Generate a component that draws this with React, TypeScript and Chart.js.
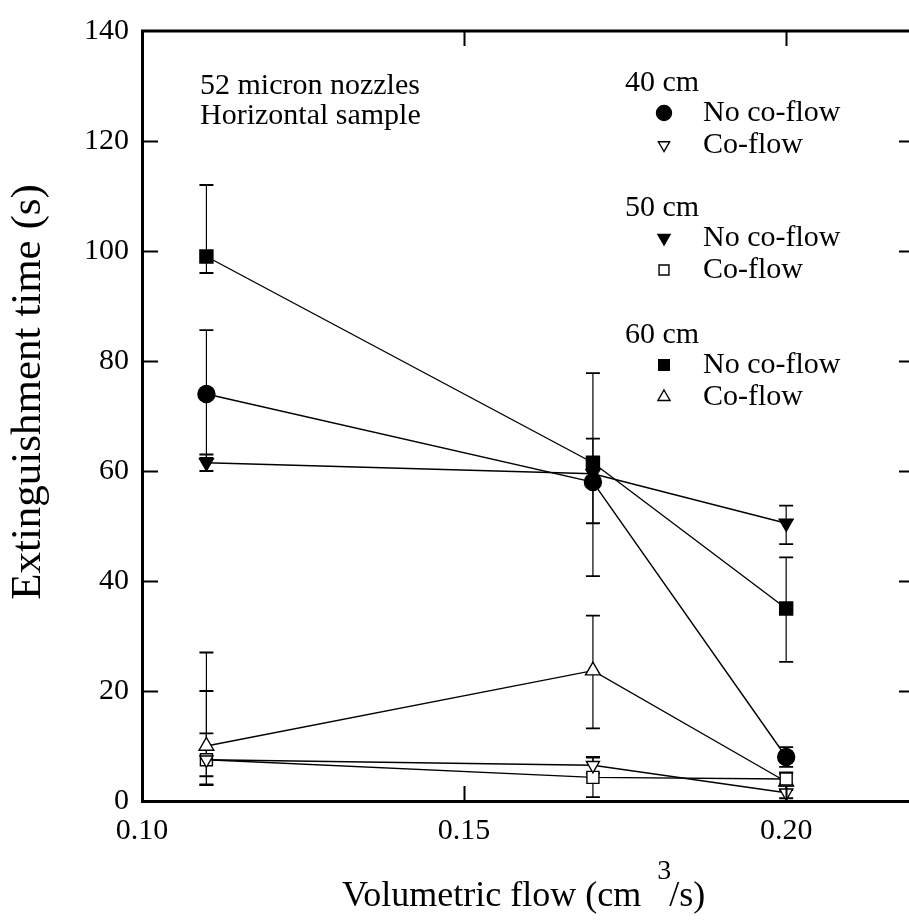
import React, { useEffect, useRef } from 'react';
import { Chart, registerables } from 'chart.js';

Chart.register(...registerables);

// ---------- data ----------
const flow = [0.11, 0.17, 0.2];

const noCoflow40 = [74, 58, 8];
const noCoflow40ErrUp = [11.6, 7.9, 1.8];
const noCoflow40ErrDown = [11.6, 7.5, 1.8];

const coflow40 = [7.5, 6.5, 1.5];
const coflow40ErrUp = [12.5, 1.5, 1.5];
const coflow40ErrDown = [4.6, 1.5, 1];

const noCoflow50 = [61.5, 59.5, 50.5];
const noCoflow50ErrUp = [1.5, 0, 3.2];
const noCoflow50ErrDown = [1.5, 0, 3.8];

const coflow50 = [7.5, 4.3, 4];
const coflow50ErrUp = [4.8, 3.6, 1.2];
const coflow50ErrDown = [3, 3.6, 1.2];

const noCoflow60 = [99, 61.5, 35];
const noCoflow60ErrUp = [13, 16.3, 9.3];
const noCoflow60ErrDown = [3, 20.6, 9.7];

const coflow60 = [10, 23.7, 3.5];
const coflow60ErrUp = [17, 10, 1.5];
const coflow60ErrDown = [7, 10.5, 1.5];

const xTickValues = [0.1, 0.15, 0.2];
const yTickValues = [0, 20, 40, 60, 80, 100, 120, 140];

const groupLabels = ['40 cm', '50 cm', '60 cm'];
const rowLabels = ['No co-flow', 'Co-flow'];
const noteLines = ['52 micron nozzles', 'Horizontal sample'];
const xTitle = ['Volumetric flow (cm', '3', '/s)'];
const yTitle = 'Extinguishment time (s)';

// ---------- styling ----------
const FONT = "'Liberation Serif', 'Times New Roman', serif";

type Marker = { style: 'circle' | 'rect' | 'triangle'; rot: number; filled: boolean; r: number; lr: number };

const seriesDefs = [
  { label: '40 cm No co-flow', data: noCoflow40, up: noCoflow40ErrUp, dn: noCoflow40ErrDown, m: { style: 'circle', rot: 0, filled: true, r: 8.5, lr: 7.5 } as Marker },
  { label: '40 cm Co-flow', data: coflow40, up: coflow40ErrUp, dn: coflow40ErrDown, m: { style: 'triangle', rot: 180, filled: false, r: 7.5, lr: 6.5 } as Marker },
  { label: '50 cm No co-flow', data: noCoflow50, up: noCoflow50ErrUp, dn: noCoflow50ErrDown, m: { style: 'triangle', rot: 180, filled: true, r: 8, lr: 7 } as Marker },
  { label: '50 cm Co-flow', data: coflow50, up: coflow50ErrUp, dn: coflow50ErrDown, m: { style: 'rect', rot: 0, filled: false, r: 8.5, lr: 7 } as Marker },
  { label: '60 cm No co-flow', data: noCoflow60, up: noCoflow60ErrUp, dn: noCoflow60ErrDown, m: { style: 'rect', rot: 0, filled: true, r: 9.2, lr: 7.5 } as Marker },
  { label: '60 cm Co-flow', data: coflow60, up: coflow60ErrUp, dn: coflow60ErrDown, m: { style: 'triangle', rot: 0, filled: false, r: 8.5, lr: 7 } as Marker },
];

function drawMarker(ctx: CanvasRenderingContext2D, m: Marker, x: number, y: number, r: number) {
  ctx.save();
  ctx.beginPath();
  if (m.style === 'circle') {
    ctx.arc(x, y, r, 0, Math.PI * 2);
  } else if (m.style === 'rect') {
    const s = Math.SQRT1_2 * r;
    ctx.rect(x - s, y - s, 2 * s, 2 * s);
  } else {
    let rad = (m.rot * Math.PI) / 180;
    for (let i = 0; i < 3; i++) {
      const px = x + Math.sin(rad) * r;
      const py = y - Math.cos(rad) * r;
      if (i === 0) ctx.moveTo(px, py);
      else ctx.lineTo(px, py);
      rad += (2 * Math.PI) / 3;
    }
    ctx.closePath();
  }
  ctx.fillStyle = m.filled ? '#000' : '#fff';
  ctx.fill();
  ctx.lineWidth = 1.4;
  ctx.strokeStyle = '#000';
  ctx.stroke();
  ctx.restore();
}

const errorBarPlugin = {
  id: 'errorBars',
  beforeDatasetsDraw(chart: any) {
    const ctx = chart.ctx as CanvasRenderingContext2D;
    const y = chart.scales.y;
    ctx.save();
    ctx.strokeStyle = '#000';
    seriesDefs.forEach((s, di) => {
      const meta = chart.getDatasetMeta(di);
      meta.data.forEach((pt: any, i: number) => {
        const up = s.up[i];
        const dn = s.dn[i];
        if (!up && !dn) return;
        const x = pt.x;
        const yTop = y.getPixelForValue(s.data[i] + up);
        const yBot = y.getPixelForValue(Math.max(0, s.data[i] - dn));
        ctx.lineWidth = 1.2;
        ctx.beginPath();
        ctx.moveTo(x, yTop);
        ctx.lineTo(x, yBot);
        ctx.stroke();
        ctx.lineWidth = 1.8;
        ctx.beginPath();
        ctx.moveTo(x - 7, yTop);
        ctx.lineTo(x + 7, yTop);
        ctx.moveTo(x - 7, yBot);
        ctx.lineTo(x + 7, yBot);
        ctx.stroke();
      });
    });
    ctx.restore();
  },
};

const decorPlugin = {
  id: 'decor',
  afterDraw(chart: any) {
    const ctx = chart.ctx as CanvasRenderingContext2D;
    const { left, right, top, bottom } = chart.chartArea;
    const xs = chart.scales.x;
    const ys = chart.scales.y;
    ctx.save();
    ctx.strokeStyle = '#000';
    // frame top & right
    ctx.lineWidth = 3;
    ctx.beginPath();
    ctx.moveTo(left - 1, top);
    ctx.lineTo(right, top);
    ctx.lineTo(right, bottom);
    ctx.stroke();
    // inward ticks
    ctx.lineWidth = 2;
    ctx.beginPath();
    yTickValues.forEach((v) => {
      if (v === 0 || v === 140) return;
      const py = Math.round(ys.getPixelForValue(v)) + 0.5;
      ctx.moveTo(left, py);
      ctx.lineTo(left + 16, py);
      ctx.moveTo(right, py);
      ctx.lineTo(right - 16, py);
    });
    xTickValues.forEach((v) => {
      if (v === 0.1) return;
      const px = Math.round(xs.getPixelForValue(v)) + 0.5;
      ctx.moveTo(px, top);
      ctx.lineTo(px, top + 15);
      ctx.moveTo(px, bottom);
      ctx.lineTo(px, bottom - 15);
    });
    ctx.stroke();

    ctx.fillStyle = '#000';
    ctx.textBaseline = 'alphabetic';
    ctx.textAlign = 'left';
    // note
    ctx.font = `30px ${FONT}`;
    ctx.fillText(noteLines[0], 200, 94);
    ctx.fillText(noteLines[1], 200, 124);

    // legend
    const groupBase = [91, 216, 343];
    groupLabels.forEach((g, gi) => {
      const b = groupBase[gi];
      ctx.font = `30px ${FONT}`;
      ctx.fillText(g, 625, b);
      rowLabels.forEach((rl, ri) => {
        const rb = b + 30 + ri * 32;
        ctx.fillText(rl, 703, rb);
        const s = seriesDefs[gi * 2 + ri];
        drawMarker(ctx, s.m, 664, rb - 8, s.m.lr);
      });
    });

    // x title
    ctx.font = `36px ${FONT}`;
    const x0 = 342;
    const by = 906;
    ctx.fillText(xTitle[0], x0, by);
    const w0 = ctx.measureText(xTitle[0]).width;
    ctx.font = `28px ${FONT}`;
    const x1 = x0 + w0 + 16;
    ctx.fillText(xTitle[1], x1, by - 27);
    const w1 = ctx.measureText(xTitle[1]).width;
    ctx.font = `36px ${FONT}`;
    ctx.fillText(xTitle[2], x1 + w1 - 2, by);

    // y title
    ctx.save();
    ctx.translate(29, 392);
    ctx.rotate(-Math.PI / 2);
    ctx.textAlign = 'center';
    ctx.textBaseline = 'middle';
    ctx.font = `43px ${FONT}`;
    ctx.fillText(yTitle, 0, 0);
    ctx.restore();

    ctx.restore();
  },
};

export default function App() {
  const ref = useRef<HTMLCanvasElement | null>(null);

  useEffect(() => {
    if (!ref.current) return;
    const datasets = seriesDefs.map((s) => ({
      label: s.label,
      data: flow.map((x, i) => ({ x, y: s.data[i] })),
      borderColor: '#000',
      borderWidth: 1.4,
      fill: false,
      tension: 0,
      pointStyle: s.m.style,
      pointRotation: s.m.rot,
      pointRadius: s.m.r,
      pointHoverRadius: s.m.r,
      pointBackgroundColor: s.m.filled ? '#000' : '#fff',
      pointBorderColor: '#000',
      pointBorderWidth: 1.4,
    }));

    const chart = new Chart(ref.current, {
      type: 'line',
      data: { datasets },
      plugins: [errorBarPlugin, decorPlugin],
      options: {
        responsive: false,
        animation: false,
        devicePixelRatio: 1,
        layout: { padding: { top: 25, right: 15, left: 0, bottom: 0 } },
        plugins: {
          legend: { display: false },
          tooltip: { enabled: false },
          title: { display: false },
        },
        scales: {
          x: {
            type: 'linear',
            min: 0.1,
            max: 0.22,
            afterBuildTicks: (scale: any) => {
              scale.ticks = xTickValues.map((v) => ({ value: v }));
            },
            afterFit: (scale: any) => {
              scale.height = 123;
            },
            grid: { display: false, drawTicks: false },
            border: { display: true, color: '#000', width: 3 },
            ticks: {
              color: '#000',
              padding: 12,
              maxRotation: 0,
              font: { family: FONT, size: 30 },
              callback: (v: any) => Number(v).toFixed(2),
            },
            title: { display: false, text: 'Volumetric flow (cm3/s)' },
          },
          y: {
            type: 'linear',
            min: 0,
            max: 140,
            afterBuildTicks: (scale: any) => {
              scale.ticks = yTickValues.map((v) => ({ value: v }));
            },
            afterFit: (scale: any) => {
              scale.width = 142;
            },
            grid: { display: false, drawTicks: false },
            border: { display: true, color: '#000', width: 3 },
            ticks: {
              color: '#000',
              padding: 13,
              font: { family: FONT, size: 30 },
              callback: (v: any) => String(v),
            },
            title: { display: false, text: yTitle },
          },
        },
      },
    });
    return () => chart.destroy();
  }, []);

  return (
    <div style={{ position: 'fixed', left: 0, top: 0, width: 909, height: 924, overflow: 'hidden', background: '#fff' }}>
      <canvas ref={ref} width={930} height={924} style={{ display: 'block' }} />
    </div>
  );
}
